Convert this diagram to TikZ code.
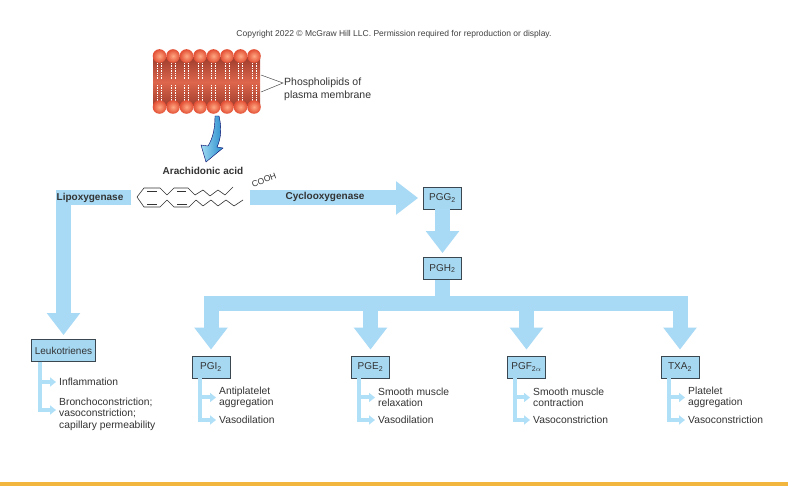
\documentclass[tikz,border=0pt]{standalone}
\usepackage{fontspec}
\setmainfont{Liberation Sans}
\usetikzlibrary{arrows.meta}
\definecolor{flowblue}{RGB}{168,218,245}
\definecolor{twigblue}{RGB}{176,223,248}
\definecolor{boxblue}{RGB}{166,216,242}
\definecolor{boxline}{RGB}{58,70,80}
\definecolor{headred}{RGB}{226,78,52}
\definecolor{headlight}{RGB}{255,168,130}
\definecolor{lipiddark}{RGB}{160,62,46}
\definecolor{lipidmid}{RGB}{222,102,76}
\definecolor{curvelight}{RGB}{160,220,242}
\definecolor{curvedark}{RGB}{40,140,205}
\definecolor{goldbar}{RGB}{242,181,62}
\colorlet{txt}{black!80}
\tikzstyle{band}=[flowblue, line width=15pt]
\tikzstyle{bigarrow}=[band, -{Triangle[width=32pt,length=22pt]}]
\tikzstyle{twig}=[twigblue, line width=4pt, -{Triangle[width=9pt,length=6pt]}, shorten >=1pt]
\tikzstyle{cell}=[draw=boxline, fill=boxblue, line width=0.8pt, minimum height=22pt, minimum width=38pt, inner xsep=3pt, text=txt, font=\fontsize{10}{12}\selectfont]
\tikzstyle{item}=[anchor=west, align=left, inner xsep=2pt, inner ysep=1pt, text=txt, font=\fontsize{10.3}{11.6}\selectfont]
\tikzstyle{enz}=[text=txt, font=\bfseries\fontsize{10}{12}\selectfont]
\tikzstyle{head}=[inner color=headlight, outer color=headred]

\begin{document}
\begin{tikzpicture}[x=1pt, y=-1pt]

\useasboundingbox (0,0) rectangle (788,486);
\fill[white] (0,0) rectangle (788,486);
\fill[goldbar] (0,482) rectangle (788,486);

\node[text=black!75, font=\fontsize{8.5}{10}\selectfont] (copy) at (394,34) {Copyright 2022 \textcopyright{} McGraw Hill LLC. Permission required for reproduction or display.};

% membrane
\shade[top color=lipiddark, bottom color=lipiddark, middle color=lipidmid] (153,58) rectangle (260,106);
\foreach \x in {159.5,173,...,254}
{
\draw[white, line width=0.55pt, dash pattern=on 1pt off 0.7pt] (\x-2.2,63) -- (\x-2.2,79) (\x+2.2,63) -- (\x+2.2,79)
  (\x-2.2,85) -- (\x-2.2,101) (\x+2.2,85) -- (\x+2.2,101);
\shade[head] (\x,56) circle (6.8pt);
\shade[head] (\x,107) circle (6.8pt);
}

\node[anchor=west, align=left, text=txt, font=\fontsize{10.5}{12.5}\selectfont, inner xsep=1pt] (phos) at (283,89.5) {Phospholipids of\\plasma membrane};
\coordinate (mtop) at (261,75);
\coordinate (mbot) at (261,92);
\draw[black!70, line width=0.5pt] (mtop) -- ([yshift=6.5pt]phos.west) -- (mbot);

% curved arrow down to the acid
\draw[draw=blue!40!black, line width=0.4pt, left color=curvelight, right color=curvedark]
  (219,116) .. controls (222,128) and (221,139) .. (217,147) -- (223,148) -- (206,162)
  -- (201,145) -- (208,146) .. controls (213,138) and (215,128) .. (215,116) -- cycle;

\node[enz] (aa) at (203,171) {Arachidonic acid};

% arachidonic acid
\draw[txt, line width=0.6pt, line join=round]
  (243,200) -- (234,206) -- (226,200) -- (218,206) -- (211,200) -- (203,206) -- (196,200)
  -- (189,207) -- (174,207) -- (167,200) -- (160,207) -- (144,207) -- (137,197)
  -- (144,188) -- (160,188) -- (167,195) -- (174,188) -- (188,188) -- (195,195)
  -- (203,190) -- (210,196) -- (218,190) -- (225,195) -- (233,187);
\draw[txt, line width=0.6pt] (147,191) -- (157,191) (177,191) -- (186,191)
  (147,204) -- (157,204) (177,204) -- (187,204);
\node[rotate=20, text=txt, inner sep=1pt, font=\fontsize{8.5}{10}\selectfont] (cooh) at (264,180) {COOH};

% boxes
\node[cell] (pgg) at (442.5,198) {PGG\textsubscript{2}};
\node[cell] (pgh) at (442.5,268.5) {PGH\textsubscript{2}};
\node[cell] (leuko) at (63.5,350.5) {Leukotrienes};
\node[cell] (pgi) at (211,367) {PGI\textsubscript{2}};
\node[cell] (pge) at (370.5,367) {PGE\textsubscript{2}};
\node[cell] (pgf) at (526.5,367) {PGF\textsubscript{2$\alpha$}};
\node[cell] (txa) at (680,367) {TXA\textsubscript{2}};

% big arrows
\coordinate (lipoR) at (131,198);
\coordinate (coxL) at (250,198);
\coordinate (bary) at (0,303.5);
\draw[bigarrow, shorten >=4pt] (lipoR) -- (leuko.north |- lipoR) -- (leuko.north);
\draw[bigarrow, shorten >=5pt] (coxL) -- (pgg.west);
\draw[bigarrow, shorten >=4pt] (pgg.south) -- (pgh.north);
\foreach \n in {pgi,pge,pgf,txa}
\draw[bigarrow, shorten >=6pt] (pgh.south) -- (pgh.south |- bary) -- (\n |- bary) -- (\n.north);

\node[enz] (lipo) at (90,198) {Lipoxygenase};
\node[enz] (cox) at (325,197) {Cyclooxygenase};

% effects
\node[item] (inf) at (57,382) {Inflammation};
\node[item] (bron) at (57,414) {Bronchoconstriction;\\vasoconstriction;\\capillary permeability};
\node[item] (pgiA) at (217,397.5) {Antiplatelet\\aggregation};
\node[item] (pgiB) at (217,420) {Vasodilation};
\node[item] (pgeA) at (376,397.5) {Smooth muscle\\relaxation};
\node[item] (pgeB) at (376,420) {Vasodilation};
\node[item] (pgfA) at (531,397.5) {Smooth muscle\\contraction};
\node[item] (pgfB) at (531,420) {Vasoconstriction};
\node[item] (txaA) at (686,397.5) {Platelet\\aggregation};
\node[item] (txaB) at (686,420) {Vasoconstriction};

\draw[twig] ([xshift=9pt]leuko.south west) |- (inf.west);
\draw[twig] ([xshift=9pt]leuko.south west) |- ([yshift=4pt]bron.west);
\foreach \n in {pgi,pge,pgf,txa}
{
\draw[twig] ([xshift=8pt]\n.south west) |- (\n A.west);
\draw[twig] ([xshift=8pt]\n.south west) |- (\n B.west);
}

\end{tikzpicture}
\end{document}
